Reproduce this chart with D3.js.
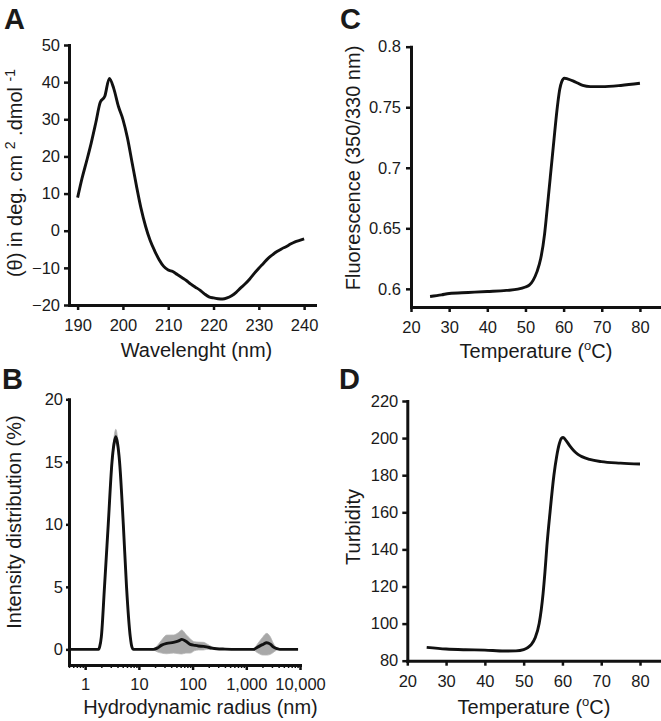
<!DOCTYPE html>
<html><head><meta charset="utf-8">
<script src="https://cdn.jsdelivr.net/npm/d3@7"></script>
<style>
body{margin:0;background:#fff;}
text{font-family:"Liberation Sans",Arial,sans-serif;fill:#1a1a1a;}
</style></head><body>
<svg id="c" width="661" height="721"></svg>
<script>
// Panel A: CD spectrum
const aWavelength=[190,191,192,193,194,195,196,197,198,199,200,201,202,203,204,205,206,207,208,209,210,211,212,213,214,215,216,217,218,219,220,221,222,223,224,225,226,227,228,229,230,231,232,233,234,235,236,237,238,239,240];
const aTheta=[8.9,14.2,18.8,23.6,29,34.6,36.2,41,38.2,33.5,30,25,18.5,12,6,1.2,-2.6,-5.4,-7.8,-9.6,-10.6,-11,-11.8,-12.6,-13.4,-14.4,-15.2,-16,-17,-17.8,-18.1,-18.3,-18.4,-18.1,-17.5,-16.6,-15.4,-14.3,-13,-11.5,-10.1,-8.8,-7.5,-6.5,-5.6,-4.9,-4.3,-3.6,-3.0,-2.6,-2.2];
const aXTicks=[190,200,210,220,230,240];
const aYTicks=[-20,-10,0,10,20,30,40,50];

// Panel B: DLS intensity distribution
const bRadius=[0.5,1.78,1.86,2.0,2.29,2.69,3.16,3.43,3.72,4.03,4.37,5.13,5.89,6.92,7.41,7.94,12,18.6,22,26.6,33,44,55,63,75,90,110,128,160,182,230,280,400,660,1000,1350,1660,2000,2400,2800,3170,3700,4200,6000,9200];
const bMean=[0,0,0.2,1,5,10,15,16.4,17,16.4,15,10,5,1,0.2,0,0,0,0.1,0.34,0.48,0.56,0.68,0.8,0.65,0.4,0.32,0.27,0.24,0.2,0.1,0.05,0.02,0,0,0,0.2,0.38,0.53,0.42,0.2,0.06,0,0,0];
const bHigh=[0,0,0.2,1.1,5.2,10.3,15.4,16.9,17.6,16.9,15.4,10.3,5.2,1.1,0.2,0,0,0.05,0.3,0.75,1.14,1.15,1.35,1.55,1.2,0.85,0.6,0.58,0.56,0.45,0.2,0.08,0.03,0,0,0.05,0.5,0.95,1.28,1.0,0.5,0.1,0,0,0];
const bLow=[0,0,0.2,0.9,4.8,9.7,14.6,16.0,16.5,16.0,14.6,9.7,4.8,0.9,0.2,0,0,-0.05,-0.2,-0.3,-0.35,-0.3,-0.35,-0.37,-0.3,-0.3,-0.1,-0.05,-0.05,0,0,0,0,0,0,-0.05,-0.3,-0.45,-0.46,-0.4,-0.25,-0.05,0,0,0];
const bXTicks=[1,10,100,1000,10000];
const bXTickLabels=["1","10","100","1,000","10,000"];
const bYTicks=[0,5,10,15,20];

// Panel C: intrinsic fluorescence ratio
const cTemp=[25,28,30,35,40,45,48,50,51,52,53,54,55,55.5,56,56.5,57,57.5,58,58.5,59,59.5,60.2,61,63,65,67,70,75,80];
const cRatio=[0.5937,0.595,0.5962,0.597,0.5978,0.5987,0.5997,0.6015,0.603,0.607,0.614,0.625,0.645,0.66,0.676,0.692,0.708,0.724,0.740,0.754,0.765,0.771,0.774,0.7735,0.771,0.768,0.767,0.767,0.768,0.7698];
const cXTicks=[20,30,40,50,60,70,80];
const cYTicks=[0.6,0.65,0.7,0.75,0.8];
const cYTickLabels=["0.6","0.65","0.7","0.75","0.8"];

// Panel D: turbidity
const dTemp=[25,30,35,40,45,48,50,51,52,53,54,55,55.5,56,56.8,57.8,58.5,59.2,59.7,60.2,61,62,63,64,65,67,70,75,80];
const dTurb=[87.2,86.3,85.9,85.7,85.2,85.3,86,87,88.8,92.5,100,116,128,142,160,180,190,197,199.8,200.3,198.5,195.5,193,191.2,190,188.5,187.3,186.5,186];
const dXTicks=[20,30,40,50,60,70,80];
const dYTicks=[80,100,120,140,160,180,200,220];

const svg=d3.select("#c");
const INK="#111";

function styleAxis(g,fs){
  g.select(".domain").attr("stroke",INK).attr("stroke-width",3).attr("stroke-linecap","square");
  g.selectAll(".tick line").attr("stroke",INK).attr("stroke-width",2.5);
  g.selectAll(".tick text").attr("font-size",fs||"16.5px").attr("fill","#1a1a1a")
    .attr("font-family","'Liberation Sans',Arial,sans-serif");
}
function panelLabel(t,x,y){
  svg.append("text").attr("x",x).attr("y",y).attr("font-size","29px").attr("font-weight","bold").attr("fill","#111").text(t);
}
function xTitle(x,y,parts){
  const t=svg.append("text").attr("x",x).attr("y",y).attr("text-anchor","middle").attr("font-size","20px");
  parts.forEach(p=>{const s=t.append("tspan").text(p.t); if(p.dy) s.attr("dy",p.dy); if(p.fs) s.attr("font-size",p.fs);});
  return t;
}
function yTitle(x,y,parts){
  const t=svg.append("text").attr("transform",`translate(${x},${y}) rotate(-90)`).attr("text-anchor","middle").attr("font-size","20px");
  parts.forEach(p=>{const s=t.append("tspan").text(p.t); if(p.dy) s.attr("dy",p.dy); if(p.fs) s.attr("font-size",p.fs);});
  return t;
}
const line=(x,y)=>d3.line().x(d=>x(d[0])).y(d=>y(d[1])).curve(d3.curveMonotoneX);

// ---------- Panel A ----------
{
  const x=d3.scaleLinear().domain([188.1,242.4]).range([69,315]);
  const y=d3.scaleLinear().domain([-20,50]).range([305,45]);
  const gx=svg.append("g").attr("transform","translate(0,305)")
    .call(d3.axisBottom(x).tickValues(aXTicks).tickSize(5).tickSizeOuter(0).tickPadding(9));
  styleAxis(gx);
  const gy=svg.append("g").attr("transform","translate(69,0)")
    .call(d3.axisLeft(y).tickValues(aYTicks).tickSize(5).tickSizeOuter(0).tickPadding(4));
  styleAxis(gy);
  svg.append("path").datum(aWavelength.map((w,i)=>[w,aTheta[i]]))
    .attr("d",line(x,y)).attr("fill","none").attr("stroke",INK).attr("stroke-width",2.9).attr("stroke-linejoin","round");
  panelLabel("A",4,29);
  xTitle(196.5,357,[{t:"Wavelenght (nm)"}]);
  yTitle(22,173,[{t:"(θ) in deg. cm "},{t:"2",dy:-7,fs:"14px"},{t:" .dmol ",dy:7},{t:"-1",dy:-7,fs:"14px"}]);
}

// ---------- Panel B ----------
{
  const x=d3.scaleLog().domain([0.5,10000]).range([69,300]);
  const y=d3.scaleLinear().domain([-1.25,20]).range([665,399.3]);
  const minor=x.ticks().filter(v=>bXTicks.indexOf(v)<0);
  const gm=svg.append("g").attr("transform","translate(0,665)")
    .call(d3.axisBottom(x).tickValues(minor).tickSize(3).tickSizeOuter(0).tickFormat(""));
  styleAxis(gm);
  gm.selectAll(".tick line").attr("stroke-width",1.5);
  const gx=svg.append("g").attr("transform","translate(0,665)")
    .call(d3.axisBottom(x).tickValues(bXTicks).tickSize(5).tickSizeOuter(0).tickPadding(8)
      .tickFormat((d,i)=>bXTickLabels[i]));
  styleAxis(gx);
  const gy=svg.append("g").attr("transform","translate(69,0)")
    .call(d3.axisLeft(y).tickValues(bYTicks).tickSize(3).tickSizeOuter(0).tickPadding(3));
  styleAxis(gy);
  const pts=bRadius.map((r,i)=>({r,m:bMean[i],lo:bLow[i],hi:bHigh[i]}));
  svg.append("path").datum(pts)
    .attr("d",d3.area().x(d=>x(d.r)).y0(d=>y(d.lo)).y1(d=>y(d.hi)).curve(d3.curveMonotoneX))
    .attr("fill","#a8a8a8").attr("stroke","#b5b5b5").attr("stroke-width",0.8);
  svg.append("path").datum(pts.map(d=>[d.r,d.m]))
    .attr("d",line(x,y)).attr("fill","none").attr("stroke",INK).attr("stroke-width",2.9).attr("stroke-linejoin","round");
  panelLabel("B",2,389);
  xTitle(200.5,714,[{t:"Hydrodynamic radius (nm)"}]);
  yTitle(20.5,522,[{t:"Intensity distribution (%)"}]);
}

// ---------- Panel C ----------
{
  const x=d3.scaleLinear().domain([20,85]).range([411,659]);
  const y=d3.scaleLinear().domain([0.585,0.8]).range([307,46.7]);
  const gx=svg.append("g").attr("transform","translate(0,307)")
    .call(d3.axisBottom(x).tickValues(cXTicks).tickSize(5).tickSizeOuter(0).tickPadding(9));
  styleAxis(gx);
  const gy=svg.append("g").attr("transform","translate(411,0)")
    .call(d3.axisLeft(y).tickValues(cYTicks).tickSize(5).tickSizeOuter(0).tickPadding(5)
      .tickFormat((d,i)=>cYTickLabels[i]));
  styleAxis(gy);
  svg.append("path").datum(cTemp.map((t,i)=>[t,cRatio[i]]))
    .attr("d",line(x,y)).attr("fill","none").attr("stroke",INK).attr("stroke-width",2.9).attr("stroke-linejoin","round");
  panelLabel("C",340,29);
  xTitle(536,358,[{t:"Temperature ("},{t:"o",dy:-8,fs:"13px"},{t:"C)",dy:8}]);
  yTitle(360,168,[{t:"Fluorescence (350/330 nm)"}]);
}

// ---------- Panel D ----------
{
  const x=d3.scaleLinear().domain([20,85]).range([407.3,659.4]);
  const y=d3.scaleLinear().domain([80,220]).range([660.7,401]);
  const gx=svg.append("g").attr("transform","translate(0,660.7)")
    .call(d3.axisBottom(x).tickValues(dXTicks).tickSize(5).tickSizeOuter(0).tickPadding(10));
  styleAxis(gx);
  const gy=svg.append("g").attr("transform","translate(407.3,0)")
    .call(d3.axisLeft(y).tickValues(dYTicks).tickSize(5).tickSizeOuter(0).tickPadding(4));
  styleAxis(gy);
  svg.append("path").datum(dTemp.map((t,i)=>[t,dTurb[i]]))
    .attr("d",line(x,y)).attr("fill","none").attr("stroke",INK).attr("stroke-width",2.9).attr("stroke-linejoin","round");
  panelLabel("D",339,389);
  xTitle(534,714,[{t:"Temperature ("},{t:"o",dy:-8,fs:"13px"},{t:"C)",dy:8}]);
  yTitle(360,527,[{t:"Turbidity"}]);
}
</script></body></html>
